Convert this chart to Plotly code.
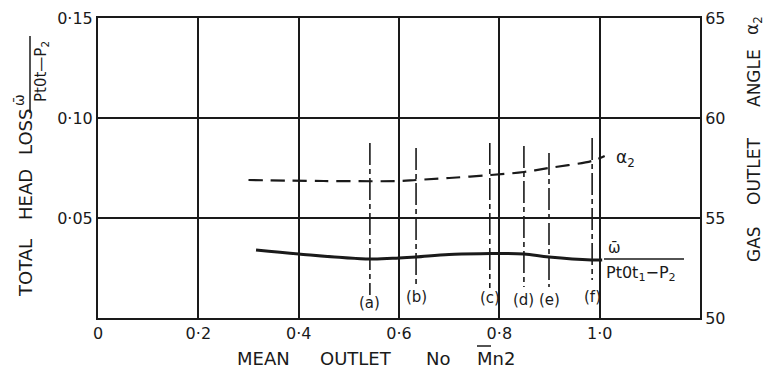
import plotly.graph_objects as go

# ---- data ----
mach_alpha = [0.30, 0.45, 0.60, 0.634, 0.70, 0.783, 0.849, 0.899, 0.984, 1.01]
alpha2 = [56.9, 56.85, 56.85, 56.9, 57.0, 57.15, 57.3, 57.5, 57.85, 58.1]

mach_loss = [0.315, 0.40, 0.542, 0.60, 0.634, 0.70, 0.783, 0.80, 0.849, 0.899, 0.984, 1.005]
loss = [0.034, 0.032, 0.0295, 0.030, 0.0305, 0.0318, 0.0322, 0.0323, 0.032, 0.0305, 0.029, 0.029]

test_labels = ["(a)", "(b)", "(c)", "(d)", "(e)", "(f)"]
test_mach = [0.542, 0.634, 0.781, 0.849, 0.899, 0.985]
test_top = [0.0875, 0.085, 0.0875, 0.086, 0.0825, 0.09]
test_bottom = [0.0115, 0.0165, 0.015, 0.0155, 0.0155, 0.019]
test_label_y = [0.0075, 0.0105, 0.010, 0.009, 0.009, 0.0105]

x_ticks = [0, 0.2, 0.4, 0.6, 0.8, 1.0]
x_ticktext = ["0", "0·2", "0·4", "0·6", "0·8", "1·0"]
y_ticks = [0.05, 0.10, 0.15]
y_ticktext = ["0·05", "0·10", "0·15"]
y2_ticks = [50, 55, 60, 65]
y2_ticktext = ["50", "55", "60", "65"]

FONT = "DejaVu Sans"
INK = "#1a1a1a"

fig = go.Figure()

# vertical test markers (dash-dot)
for xm, yt, yb in zip(test_mach, test_top, test_bottom):
    fig.add_trace(go.Scatter(x=[xm, xm], y=[yt, yb], mode="lines",
                             line=dict(color=INK, width=1.6, dash="22px,4px,5px,4px"),
                             showlegend=False, hoverinfo="skip"))

fig.add_trace(go.Scatter(x=mach_loss, y=loss, mode="lines", line=dict(color=INK, width=3, shape="spline"),
                         showlegend=False))
fig.add_trace(go.Scatter(x=mach_alpha, y=alpha2, mode="lines", yaxis="y2",
                         line=dict(color=INK, width=2.2, dash="14px,8px", shape="spline"),
                         showlegend=False))

for lab, xm, ly in zip(test_labels, test_mach, test_label_y):
    fig.add_annotation(x=xm, y=ly, text=lab, showarrow=False, xref="x", yref="y",
                       xanchor="center", yanchor="middle",
                       font=dict(family=FONT, size=15, color=INK))

W, H = 774, 376
L, R, T, B = 98, 700, 18, 318


def px(x):
    return (x - L) / (R - L)


def py(y):
    return (B - y) / (B - T)


def text(xp, yp, s, size=16, angle=0, xanchor="center"):
    fig.add_annotation(x=px(xp), y=py(yp), xref="paper", yref="paper", text=s, textangle=angle,
                       showarrow=False, xanchor=xanchor, yanchor="middle",
                       font=dict(family=FONT, size=size, color=INK))


def line(x0, y0, x1, y1, w=1.5):
    fig.add_shape(type="line", xref="paper", yref="paper", x0=px(x0), x1=px(x1), y0=py(y0), y1=py(y1),
                  line=dict(color=INK, width=w))


# curve labels
text(614, 158, "α<sub>2</sub>", 17, xanchor="left")
text(606, 248, "ω̄", 15, xanchor="left")
line(604, 259, 684, 259)
text(604, 273, "Pt0t<sub>1</sub>−P<sub>2</sub>", 16, xanchor="left")

# x title
text(235, 358, "MEAN", 18, xanchor="left")
text(318, 358, "OUTLET", 18, xanchor="left")
text(424, 358, "No", 18, xanchor="left")
text(475, 358, "Mn2", 18, xanchor="left")
line(477, 346, 491, 346, 1.5)

# left title
text(25, 268, "TOTAL", 18, -90)
text(25, 195, "HEAD", 18, -90)
text(25, 132, "LOSS", 18, -90)
text(19, 100, "ω̄", 14, -90)
line(30, 36, 30, 113)
text(41, 72, "Pt0t—P<sub>2</sub>", 15, -90)

# right title
text(754, 244, "GAS", 17, -90)
text(754, 172, "OUTLET", 17, -90)
text(754, 78, "ANGLE", 17, -90)
text(754, 26, "α<sub>2</sub>", 17, -90)

axis_common = dict(showline=True, linecolor=INK, linewidth=2, zeroline=False, automargin=False,
                   tickfont=dict(family=FONT, size=16, color=INK), ticks="")

fig.update_layout(
    width=W, height=H,
    margin=dict(l=L, r=W - R, t=T, b=H - B, autoexpand=False),
    paper_bgcolor="white", plot_bgcolor="white",
    xaxis=dict(range=[0, 1.2], tickvals=x_ticks, ticktext=x_ticktext, mirror=True,
               showgrid=True, gridcolor=INK, gridwidth=1.8, **axis_common),
    yaxis=dict(range=[0, 0.15], tickvals=y_ticks, ticktext=y_ticktext, mirror=True,
               showgrid=True, gridcolor=INK, gridwidth=1.8, **axis_common),
    yaxis2=dict(range=[50, 65], tickvals=y2_ticks, ticktext=y2_ticktext, overlaying="y", side="right",
                showgrid=False, **axis_common),
)

fig.write_html("out.html", config={"displayModeBar": False},
               post_script="document.body.style.margin='0';")
